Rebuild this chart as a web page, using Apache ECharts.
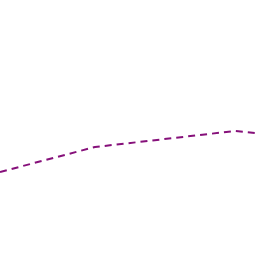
<!DOCTYPE html>
<html>
<head>
<meta charset="utf-8">
<script src="https://cdn.jsdelivr.net/npm/echarts@6/dist/echarts.min.js"></script>
<style>
  html, body { margin: 0; padding: 0; background: #fff; }
  #chart { width: 256px; height: 256px; }
</style>
</head>
<body>
<div id="chart"></div>
<script>
const xValues = [0, 95, 235, 256]
const yValues = [84, 109, 125, 123]

const chart = echarts.init(document.getElementById('chart'))
chart.setOption({
  animation: false,
  grid: { left: 0, right: 0, top: 0, bottom: 0 },
  xAxis: { type: 'value', min: 0, max: 256, show: false },
  yAxis: { type: 'value', min: 0, max: 256, show: false },
  series: [{
    type: 'line',
    data: xValues.map((x, i) => [x, yValues[i]]),
    symbol: 'none',
    lineStyle: { color: '#86107a', width: 2, type: [7, 5] },
  }],
})
</script>
</body>
</html>
